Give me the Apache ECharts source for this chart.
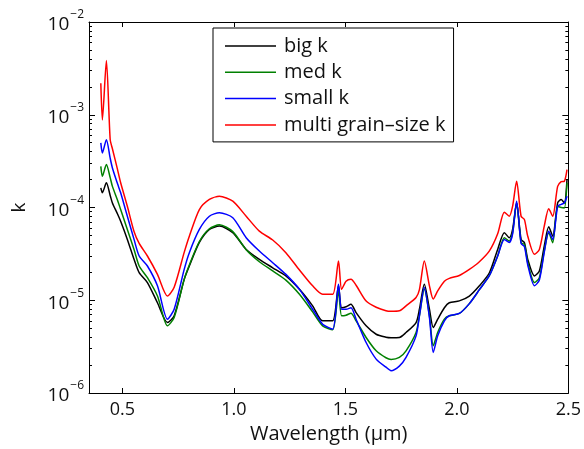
<!DOCTYPE html>
<html><head><meta charset="utf-8">
<script src="https://cdn.jsdelivr.net/npm/echarts@6/dist/echarts.min.js"></script>
<style>html,body{margin:0;padding:0;background:#fff}#c{width:584px;height:449px}</style>
</head><body><div id="c"></div>
<script>
const wavelength = [0.403,0.410,0.428,0.445,0.455,0.478,0.492,0.522,0.552,0.575,0.612,0.657,0.702,0.732,0.777,0.800,0.845,0.890,0.935,0.995,1.055,1.114,1.174,1.233,1.294,1.353,1.398,1.443,1.469,1.483,1.503,1.525,1.548,1.593,1.638,1.682,1.705,1.742,1.772,1.817,1.832,1.854,1.877,1.894,1.914,1.944,1.966,2.011,2.056,2.101,2.146,2.183,2.213,2.235,2.250,2.268,2.288,2.303,2.318,2.348,2.370,2.392,2.412,2.430,2.452,2.468,2.482,2.494];
const bigK = [1.63e-4,1.44e-4,1.85e-4,1.35e-4,1.12e-4,8.5e-5,7.1e-5,4.53e-5,2.76e-5,1.98e-5,1.55e-5,9.4e-6,5.75e-6,6.8e-6,1.68e-5,2.34e-5,4.2e-5,5.8e-5,6.3e-5,5.35e-5,3.53e-5,2.76e-5,2.24e-5,1.83e-5,1.31e-5,8.7e-6,6.0e-6,6.0e-6,1.43e-5,8.3e-6,8.5e-6,9.06e-6,7.36e-6,5.3e-6,4.3e-6,4.0e-6,3.95e-6,3.97e-6,4.49e-6,5.75e-6,8.0e-6,1.49e-5,8.0e-6,5.08e-6,6.25e-6,8.3e-6,9.4e-6,9.85e-6,1.11e-5,1.43e-5,1.98e-5,3.53e-5,5.35e-5,4.72e-5,5.8e-5,1.12e-4,4.53e-5,4.17e-5,2.76e-5,1.83e-5,2.07e-5,3.84e-5,6.2e-5,4.9e-5,1.12e-4,1.22e-4,1.12e-4,2.0e-4];
const medK = [2.78e-4,2.17e-4,2.9e-4,2.1e-4,1.69e-4,1.2e-4,9.5e-5,5.8e-5,3.53e-5,2.34e-5,1.75e-5,1.11e-5,5.3e-6,6.5e-6,1.68e-5,2.4e-5,4.3e-5,5.9e-5,6.5e-5,5.5e-5,3.5e-5,2.6e-5,2.07e-5,1.65e-5,1.16e-5,7.5e-6,5.3e-6,4.8e-6,1.26e-5,6.8e-6,6.9e-6,7.24e-6,6.0e-6,3.97e-6,2.85e-6,2.4e-6,2.3e-6,2.42e-6,2.85e-6,4.49e-6,6.8e-6,1.31e-5,6.8e-6,3.23e-6,4.49e-6,6.25e-6,6.8e-6,7.2e-6,9.2e-6,1.3e-5,1.85e-5,3.0e-5,4.72e-5,4.35e-5,5.35e-5,1.12e-4,4.17e-5,4.0e-5,2.54e-5,1.55e-5,1.75e-5,3.39e-5,5.35e-5,4.17e-5,1.03e-4,1.0e-4,9.9e-5,1.85e-4];
const smallK = [4.97e-4,3.87e-4,5.38e-4,3.4e-4,2.67e-4,1.8e-4,1.44e-4,8.05e-5,4.53e-5,3.0e-5,2.34e-5,1.43e-5,6.25e-6,8.0e-6,2.15e-5,3.26e-5,5.8e-5,8.05e-5,8.77e-5,7.75e-5,4.72e-5,3.39e-5,2.54e-5,1.9e-5,1.31e-5,8.0e-6,5.52e-6,4.88e-6,1.49e-5,8.0e-6,8.0e-6,8.3e-6,6.25e-6,3.5e-6,2.32e-6,1.9e-6,1.74e-6,1.95e-6,2.42e-6,4.13e-6,6.8e-6,1.37e-5,6.5e-6,2.74e-6,4.13e-6,6.0e-6,6.8e-6,7.2e-6,9.2e-6,1.3e-5,1.85e-5,3.0e-5,4.53e-5,4.2e-5,5.2e-5,1.17e-4,4.1e-5,3.8e-5,2.4e-5,1.43e-5,1.65e-5,3.3e-5,5.56e-5,4.53e-5,1.03e-4,1.08e-4,1.12e-4,1.32e-4];
const multiK = [2.19e-3,8.8e-4,3.84e-3,5.4e-4,4.3e-4,2.56e-4,1.85e-4,1.03e-4,5.5e-5,4.1e-5,3.0e-5,1.9e-5,1.11e-5,1.38e-5,3.28e-5,4.9e-5,9.5e-5,1.22e-4,1.32e-4,1.17e-4,8.05e-5,5.56e-5,4.46e-5,3.26e-5,2.12e-5,1.43e-5,1.16e-5,1.16e-5,2.65e-5,1.31e-5,1.6e-5,1.68e-5,1.45e-5,9.8e-6,8.4e-6,7.7e-6,7.6e-6,7.7e-6,8.7e-6,1.07e-5,1.3e-5,2.65e-5,1.43e-5,1.03e-5,1.26e-5,1.6e-5,1.72e-5,1.85e-5,2.15e-5,2.6e-5,3.4e-5,5.2e-5,8.9e-5,8.05e-5,1.03e-4,1.92e-4,8.05e-5,7.4e-5,4.9e-5,3.13e-5,3.53e-5,6.3e-5,9.7e-5,8.05e-5,1.69e-4,1.9e-4,1.92e-4,2.56e-4];
const seriesNames = ['big k','med k','small k','multi grain\u2013size k'];
const seriesColors = ['#000000','#008000','#0000ff','#ff0000'];
const xTicks = [0.5,1.0,1.5,2.0,2.5];
const yMajor = [1e-6,1e-5,1e-4,1e-3,1e-2];
const yMinor = [];
for (let e = -6; e <= -3; e++) for (let m = 2; m <= 9; m++) yMinor.push(m * Math.pow(10, e));

const font = 'Open Sans';
const pair = arr => wavelength.map((w, i) => [w, arr[i]]);
const values = [bigK, medK, smallK, multiK];
const axLine = {show:true, onZero:false, lineStyle:{color:'#000', width:1}};
const yBase = {type:'log', logBase:10, min:1e-6, max:1e-2, splitLine:{show:false}, axisLine:axLine};

const chart = echarts.init(document.getElementById('c'));
chart.setOption({
  animation:false,
  backgroundColor:'#fff',
  grid:{left:89, top:22, right:15, bottom:55},
  xAxis:[
    {type:'value', min:0.35, max:2.5, position:'bottom', axisLine:axLine, splitLine:{show:false},
     axisTick:{inside:true, length:5, customValues:xTicks, lineStyle:{color:'#000'}},
     axisLabel:{customValues:xTicks, formatter:v => v.toFixed(1), color:'#111', fontSize:18, fontFamily:font, margin:8},
     name:'Wavelength (\u03bcm)', nameLocation:'middle', nameGap:31,
     nameTextStyle:{color:'#111', fontSize:20, fontFamily:font}},
    {type:'value', min:0.35, max:2.5, position:'top', axisLine:axLine, splitLine:{show:false},
     axisTick:{inside:true, length:5, customValues:xTicks, lineStyle:{color:'#000'}},
     axisLabel:{show:false}}
  ],
  yAxis:[
    Object.assign({}, yBase, {position:'left',
     axisTick:{inside:true, length:6, customValues:yMajor, lineStyle:{color:'#000'}},
     axisLabel:{customValues:yMajor, margin:5, fontFamily:font,
       formatter:v => { const e = Math.round(Math.log10(v)); return '{b|10}{s|' + (e < 0 ? '\u2212' : '') + Math.abs(e) + '}'; },
       rich:{b:{fontSize:19, fontFamily:font, color:'#111', padding:[6,0,0,0]},
             s:{fontSize:12, fontFamily:font, color:'#111', padding:[0,0,14,1]}}},
     name:'k', nameLocation:'middle', nameGap:60, nameTextStyle:{color:'#111', fontSize:19, fontFamily:font}}),
    Object.assign({}, yBase, {position:'left', axisLine:{show:false},
     axisTick:{inside:true, length:3, customValues:yMinor, lineStyle:{color:'#000'}}, axisLabel:{show:false}}),
    Object.assign({}, yBase, {position:'right',
     axisTick:{inside:true, length:6, customValues:yMajor, lineStyle:{color:'#000'}}, axisLabel:{show:false}}),
    Object.assign({}, yBase, {position:'right', axisLine:{show:false},
     axisTick:{inside:true, length:3, customValues:yMinor, lineStyle:{color:'#000'}}, axisLabel:{show:false}})
  ],
  legend:{orient:'vertical', left:213, top:28, padding:[8,8,7,12], icon:'rect', itemWidth:51, itemHeight:1.5, itemGap:6.3,
    textStyle:{fontSize:20, lineHeight:19, fontFamily:font, color:'#111', padding:[0,0,0,3]},
    borderColor:'#000', borderWidth:1, backgroundColor:'#fff', data:seriesNames},
  series:seriesNames.map((n, i) => ({
    name:n, type:'line', xAxisIndex:0, yAxisIndex:0, data:pair(values[i]), symbol:'none', smooth:0.25,
    color:seriesColors[i], lineStyle:{color:seriesColors[i], width:1.5}
  }))
});
</script></body></html>
